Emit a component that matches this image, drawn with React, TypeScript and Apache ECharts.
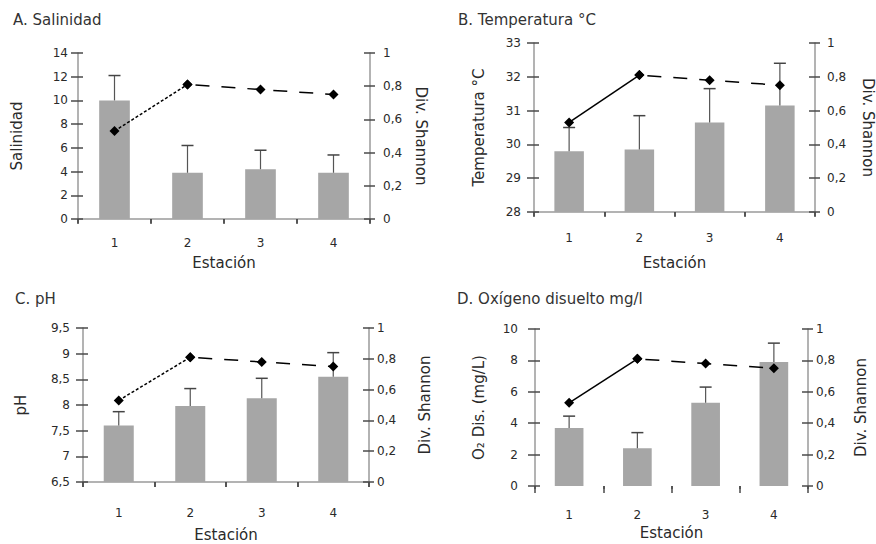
import React, { useEffect, useRef } from "react";
import * as echarts from "echarts";

// ---- data ----
const stations = ["1", "2", "3", "4"];
const shannon = [0.53, 0.81, 0.78, 0.75];

const salinidad = [10, 3.9, 4.2, 3.9];
const salinidadErr = [12.1, 6.2, 5.8, 5.4];

const temperatura = [29.8, 29.85, 30.65, 31.15];
const temperaturaErr = [30.5, 30.85, 31.65, 32.4];

const ph = [7.6, 7.98, 8.13, 8.55];
const phErr = [7.87, 8.32, 8.52, 9.02];

const oxigeno = [3.7, 2.4, 5.3, 7.9];
const oxigenoErr = [4.45, 3.4, 6.3, 9.1];

const titles = ["A. Salinidad", "B. Temperatura °C", "C. pH", "D. Oxígeno disuelto mg/l"];
const leftNames = ["Salinidad", "Temperatura °C", "pH", "O₂ Dis. (mg/L)"];
const rightName = "Div. Shannon";
const xName = "Estación";

// ---- layout / style ----
const FONT = "DejaVu Sans";
const panels = [
  { values: salinidad, errs: salinidadErr, min: 0, max: 14, interval: 2,
    grid: { left: 78, top: 53, width: 292, height: 166 }, title: { left: 13, top: 12 },
    lGap: 54, rGap: 43, xGap: 36, lMargin: 10, rMargin: 13, xMargin: 18, rRot: -90, solid: false, xLine: true, xTickOut: 4, xTickIn: 5 },
  { values: temperatura, errs: temperaturaErr, min: 28, max: 33, interval: 1,
    grid: { left: 534, top: 43, width: 282, height: 169 }, title: { left: 458, top: 12 },
    lGap: 48, rGap: 45, xGap: 43, lMargin: 13, rMargin: 12, xMargin: 20, rRot: -90, solid: true, xLine: true, xTickOut: 4, xTickIn: 5 },
  { values: ph, errs: phErr, min: 6.5, max: 9.5, interval: 0.5,
    grid: { left: 83, top: 328, width: 286, height: 154 }, title: { left: 15, top: 291 },
    lGap: 55, rGap: 48, xGap: 45, lMargin: 13, rMargin: 8, xMargin: 25, rRot: 90, solid: false, xLine: true, xTickOut: 5, xTickIn: 5 },
  { values: oxigeno, errs: oxigenoErr, min: 0, max: 10, interval: 2,
    grid: { left: 535, top: 329, width: 273, height: 157 }, title: { left: 457, top: 291 },
    lGap: 49, rGap: 45, xGap: 39, lMargin: 17, rMargin: 8, xMargin: 23, rRot: 90, solid: true, xLine: false, xTickOut: 7, xTickIn: 3 },
];

const AXIS = "#9a9a9a";
const TICK = "#4a4a4a";
const TEXT = "#2a2a2a";
const fmt = (v: number) => String(v).replace(".", ",");

export default function App() {
  const ref = useRef<HTMLDivElement>(null);
  useEffect(() => {
    if (!ref.current) return;
    const chart = echarts.init(ref.current, null, { renderer: "svg" });
    const grids: any[] = [];
    const xAxes: any[] = [];
    const yAxes: any[] = [];
    const series: any[] = [];
    const titleArr: any[] = [];

    panels.forEach((p, i) => {
      grids.push({ ...p.grid, containLabel: false });
      titleArr.push({
        text: titles[i], left: p.title.left, top: p.title.top, padding: 0,
        textStyle: { fontFamily: FONT, fontSize: 15, fontWeight: "normal", color: "#333" },
      });
      const xi = xAxes.length;
      xAxes.push({
        type: "category", data: stations, gridIndex: i, boundaryGap: true,
        name: xName, nameLocation: "middle", nameGap: p.xGap, nameMoveOverlap: false,
        nameTextStyle: { fontFamily: FONT, fontSize: 15, color: TEXT },
        axisLine: { show: p.xLine, lineStyle: { color: AXIS, width: 1.5 } },
        axisTick: { show: true, length: p.xTickOut, lineStyle: { color: TICK, width: 1.5 } },
        axisLabel: { margin: p.xMargin, fontFamily: FONT, fontSize: 12, color: TEXT },
        splitLine: { show: false },
      });
      xAxes.push({
        type: "category", data: stations, gridIndex: i, boundaryGap: true,
        axisLine: { show: false },
        axisTick: { show: true, inside: true, length: p.xTickIn, lineStyle: { color: TICK, width: 1.5 } },
        axisLabel: { show: false }, splitLine: { show: false },
      });
      const yi = yAxes.length;
      const common = { type: "value", gridIndex: i, splitLine: { show: false } };
      yAxes.push({
        ...common, position: "left", min: p.min, max: p.max, interval: p.interval,
        name: leftNames[i], nameLocation: "middle", nameGap: p.lGap, nameRotate: 90, nameMoveOverlap: false,
        nameTextStyle: { fontFamily: FONT, fontSize: 15, color: TEXT },
        axisLine: { show: true, lineStyle: { color: AXIS, width: 1.5 } },
        axisTick: { show: true, length: 7, lineStyle: { color: TICK, width: 1.5 } },
        axisLabel: { margin: p.lMargin, fontFamily: FONT, fontSize: 12, color: TEXT, formatter: fmt },
      });
      yAxes.push({
        ...common, position: "right", min: 0, max: 1, interval: 0.2,
        name: rightName, nameLocation: "middle", nameGap: p.rGap, nameRotate: p.rRot, nameMoveOverlap: false,
        nameTextStyle: { fontFamily: FONT, fontSize: 15, color: TEXT },
        axisLine: { show: true, lineStyle: { color: AXIS, width: 1.5 } },
        axisTick: { show: true, length: 5, lineStyle: { color: TICK, width: 1.5 } },
        axisLabel: { margin: p.rMargin, fontFamily: FONT, fontSize: 12, color: TEXT, formatter: fmt },
      });
      yAxes.push({
        ...common, position: "left", min: p.min, max: p.max, interval: p.interval,
        axisLine: { show: false }, axisLabel: { show: false },
        axisTick: { show: true, inside: true, length: 5, lineStyle: { color: TICK, width: 1.5 } },
      });
      yAxes.push({
        ...common, position: "right", min: 0, max: 1, interval: 0.2,
        axisLine: { show: false }, axisLabel: { show: false },
        axisTick: { show: true, inside: true, length: 6, lineStyle: { color: TICK, width: 1.5 } },
      });

      series.push({
        type: "bar", xAxisIndex: xi, yAxisIndex: yi, data: p.values, barWidth: "42%",
        itemStyle: { color: "#a6a6a6" }, z: 2,
      });
      series.push({
        type: "custom", xAxisIndex: xi, yAxisIndex: yi, z: 3,
        data: p.values.map((v, k) => [k, v, p.errs[k]]),
        encode: { x: 0, y: [1, 2] },
        renderItem: (params: any, api: any) => {
          const k = api.value(0);
          const lo = api.coord([k, api.value(1)]);
          const hi = api.coord([k, api.value(2)]);
          const st = { stroke: "#555", lineWidth: 1.2 };
          return {
            type: "group",
            children: [
              { type: "line", shape: { x1: lo[0], y1: lo[1], x2: hi[0], y2: hi[1] }, style: st },
              { type: "line", shape: { x1: hi[0] - 6, y1: hi[1], x2: hi[0] + 6, y2: hi[1] }, style: { stroke: "#444", lineWidth: 1.5 } },
            ],
          };
        },
      });
      series.push({
        type: "line", xAxisIndex: xi, yAxisIndex: yi + 1, z: 5,
        data: shannon.map((v, k) => (k <= 1 ? v : null)),
        symbol: "diamond", symbolSize: 10, itemStyle: { color: "#000" },
        lineStyle: { color: "#000", width: 1.5, type: p.solid ? "solid" : [3, 2] },
      });
      series.push({
        type: "line", xAxisIndex: xi, yAxisIndex: yi + 1, z: 5,
        data: shannon.map((v, k) => (k >= 1 ? v : null)),
        symbol: "diamond", symbolSize: 10, itemStyle: { color: "#000" },
        lineStyle: { color: "#000", width: 1.5, type: [14, 12], dashOffset: -8 },
      });
    });

    chart.setOption({
      animation: false,
      backgroundColor: "#fff",
      title: titleArr,
      grid: grids,
      xAxis: xAxes,
      yAxis: yAxes,
      series,
    });
    return () => chart.dispose();
  }, []);
  return <div ref={ref} style={{ position: "fixed", left: 0, top: 0, width: 876, height: 544 }} />;
}
